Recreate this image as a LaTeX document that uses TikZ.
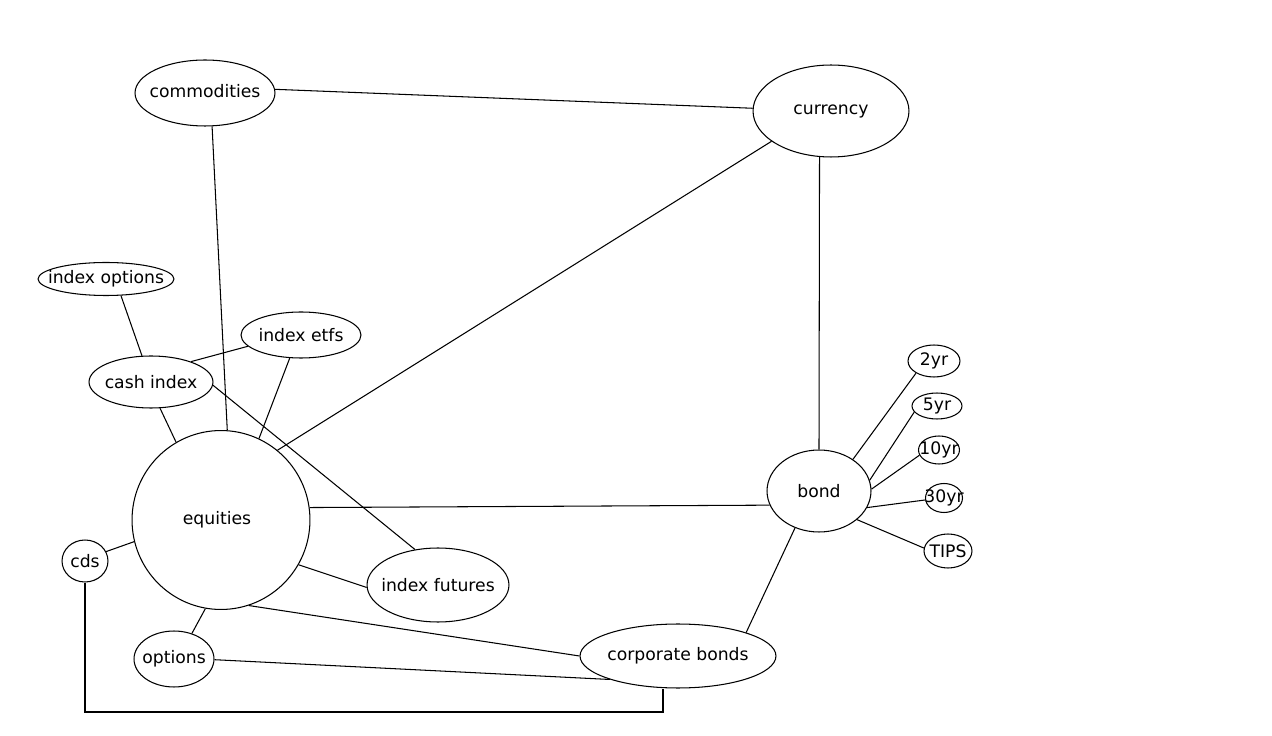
\documentclass[tikz,border=0pt]{standalone}
\usepackage{fontspec}
\setmainfont{DejaVu Sans}
\usetikzlibrary{shapes.geometric}
\newcommand\lbl[1]{\makebox[0pt]{#1}}
\newcommand\lblup[2]{\makebox[0pt]{\raisebox{#1}{#2}}}
\begin{document}
\begin{tikzpicture}[x=0.02cm,y=-0.02cm,
  el/.style 2 args={draw, ellipse, line width=0.6pt, inner sep=0pt,
    minimum width=#1*0.04cm, minimum height=#2*0.04cm,
    font=\fontsize{9.8}{11}\selectfont},
  link/.style={line width=0.6pt}]
\fill[white] (0,0) rectangle (1272,736);
\useasboundingbox (0,0) rectangle (1272,736);

\node[el={70}{33}] (comm) at (205,93) {\lblup{0.08cm}{commodities}};
\node[el={78}{46}] (curr) at (831,111) {\lbl{currency}};
\node[el={68}{16.5}] (iopt) at (106,279) {\lbl{index options}};
\node[el={60}{23}] (ietf) at (301,335) {\lbl{index etfs}};
\node[el={62}{26}] (cash) at (151,382) {\lbl{cash index}};
\node[el={89}{89.5}] (eq) at (221,520) {\lbl{\hspace*{-0.16cm}equities}};
\node[el={23}{21}] (cds) at (85,561) {\lbl{cds}};
\node[el={71}{37}] (ifut) at (438,585) {\lbl{index futures}};
\node[el={40}{28}] (opt) at (174,659) {\lbl{options}};
\node[el={98}{32}] (corp) at (678,656) {\lbl{corporate bonds}};
\node[el={52}{41}] (bond) at (819,491) {\lbl{bond}};
\node[el={26}{16}] (y2) at (934,361) {\lblup{0.06cm}{2yr}};
\node[el={25}{13}] (y5) at (937,406) {\lbl{5yr}};
\node[el={20.5}{14}] (y10) at (939,450) {\lbl{10yr}};
\node[el={18.5}{14.5}] (y30) at (944,498) {\lbl{30yr}};
\node[el={24}{17}] (tips) at (948,551) {\lbl{TIPS}};

\coordinate (bend) at (663,712);

\draw[link] (comm.3) -- (curr.178.5);
\draw[link] (comm.-78) -- (eq.86);
\draw[link] (curr.256.5) -- (bond.90);
\draw[link] (curr.207) -- (eq.51);
\draw[link] (iopt.-48) -- (cash.109);
\draw[link] (ietf.192.5) -- (cash.27);
\draw[link] (ietf.244) -- (eq.65);
\draw[link] (cash.-71) -- (eq.120);
\draw[link] (cash.-3) -- (ifut.123);
\draw[link] (eq.8) -- (bond.196);
\draw[link] (eq.-30) -- (ifut.182.5);
\draw[link] (eq.194.6) -- (cds.24.6);
\draw[link] (eq.260) -- (opt.55);
\draw[link] (eq.-72) -- (corp.180.6);
\draw[link] (opt.-1.4) -- (corp.199.4);
\draw[link] (bond.237) -- (corp.19);
\draw[link] (bond.43) -- (y2.214);
\draw[link] (bond.12.7) -- (y5.195);
\draw[link] (bond.2) -- (y10.195);
\draw[link] (bond.-19) -- (y30.186);
\draw[link] (bond.-37.6) -- (tips.173);
\draw[link] (cds.south) |- (bend) -- (bend |- corp.south);
\end{tikzpicture}
\end{document}
